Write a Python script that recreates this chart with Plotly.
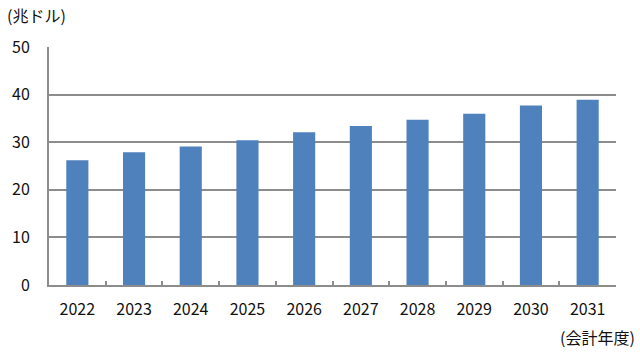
import plotly.graph_objects as go

years = ["2022", "2023", "2024", "2025", "2026", "2027", "2028", "2029", "2030", "2031"]
values = [26.2, 27.9, 29.1, 30.4, 32.1, 33.4, 34.7, 36.0, 37.7, 38.9]
y_ticks = [0, 10, 20, 30, 40, 50]

FONT = "Noto Sans CJK JP"
GRID = "#8c8c8c"

fig = go.Figure(go.Bar(x=years, y=values, marker_color="#4F81BD", marker_line_width=0))

fig.update_layout(
    width=640, height=353,
    margin=dict(l=47, r=24, t=47, b=68),
    paper_bgcolor="white", plot_bgcolor="white",
    bargap=0.61,
    showlegend=False,
    font=dict(family=FONT, size=16, color="#111111"),
    xaxis=dict(
        type="category", showgrid=False, showline=True, linecolor=GRID, linewidth=2,
        ticks="inside", tickson="boundaries", ticklen=4, tickcolor=GRID, tickwidth=1.5,
        tickfont=dict(family=FONT, size=16), ticklabelstandoff=9,
    ),
    yaxis=dict(
        range=[0, 50], tickvals=y_ticks, showgrid=True, gridcolor=GRID, gridwidth=2,
        showline=True, linecolor=GRID, linewidth=2, zeroline=False,
        tickfont=dict(family=FONT, size=16), ticklabelstandoff=14,
    ),
    annotations=[
        dict(text="(兆ドル)", xref="paper", yref="paper", x=-44/569, y=1 + 32/238,
             xanchor="left", yanchor="middle", showarrow=False, font=dict(family=FONT, size=16)),
        dict(text="(会計年度)", xref="paper", yref="paper", x=1 + 21/569, y=-52/238,
             xanchor="right", yanchor="middle", showarrow=False, font=dict(family=FONT, size=16)),
    ],
)

fig.write_html("out.html")
